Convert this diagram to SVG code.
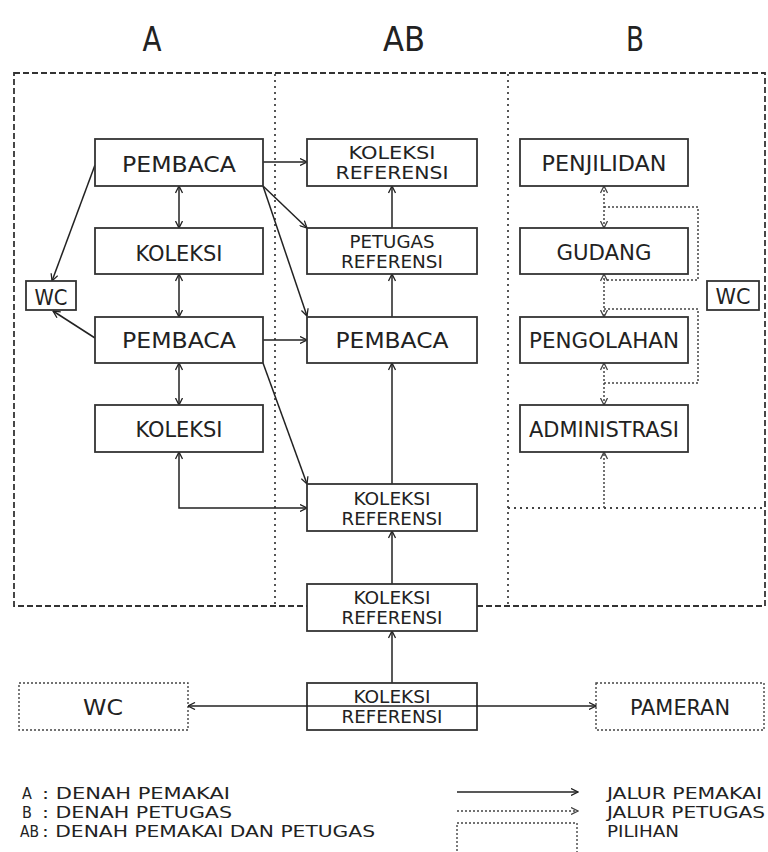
<svg xmlns="http://www.w3.org/2000/svg" width="768" height="852" viewBox="0 0 768 852">
<style>
text{font-family:"DejaVu Sans Condensed","DejaVu Sans","Liberation Sans",sans-serif;fill:#222;text-anchor:middle}
.box{fill:#fff;stroke:#333;stroke-width:1.8}
.opt{fill:#fff;stroke:#444;stroke-width:1.4;stroke-dasharray:2 2}
.frame{fill:none;stroke:#333;stroke-width:1.8;stroke-dasharray:6 3}
.div{fill:none;stroke:#444;stroke-width:1.8;stroke-dasharray:2 4}
.ln{fill:none;stroke:#222;stroke-width:1.5}
.dl{fill:none;stroke:#444;stroke-width:1.5;stroke-dasharray:2 2}
.t1{font-size:22px}
.t2{font-size:17px}
.hd{font-size:33px}
.lg{font-size:16px;text-anchor:start}
</style>
<defs>
<marker id="ah" viewBox="0 0 8 8" refX="7.5" refY="4" markerWidth="8" markerHeight="8" markerUnits="userSpaceOnUse" orient="auto-start-reverse">
<path d="M0.5,0.5 L7.5,4 L0.5,7.5" fill="none" stroke="#222" stroke-width="1.3"/>
</marker>
<marker id="ahd" viewBox="0 0 8 8" refX="7.5" refY="4" markerWidth="8" markerHeight="8" markerUnits="userSpaceOnUse" orient="auto-start-reverse">
<path d="M0.5,0.5 L7.5,4 L0.5,7.5" fill="none" stroke="#444" stroke-width="1.3"/>
</marker>
</defs>

<g id="headers">
<text class="hd" x="152" y="51" textLength="19" lengthAdjust="spacingAndGlyphs">A</text>
<text class="hd" x="404" y="51" textLength="42" lengthAdjust="spacingAndGlyphs">AB</text>
<text class="hd" x="635" y="51" textLength="18" lengthAdjust="spacingAndGlyphs">B</text>
</g>

<g id="zones">
<rect class="frame" x="14" y="73" width="751" height="533"/>
<line class="div" x1="275" y1="74" x2="275" y2="605"/>
<line class="div" x1="508" y1="74" x2="508" y2="605"/>
<line class="div" x1="508" y1="508" x2="765" y2="508"/>
</g>

<g id="connectors">
<line class="ln" x1="263" y1="162" x2="307" y2="162" marker-end="url(#ah)"/>
<line class="ln" x1="179" y1="186" x2="179" y2="228" marker-start="url(#ah)" marker-end="url(#ah)"/>
<line class="ln" x1="179" y1="274" x2="179" y2="317" marker-start="url(#ah)" marker-end="url(#ah)"/>
<line class="ln" x1="179" y1="363" x2="179" y2="405" marker-start="url(#ah)" marker-end="url(#ah)"/>
<line class="ln" x1="95" y1="165" x2="52" y2="281" marker-end="url(#ah)"/>
<line class="ln" x1="95" y1="338" x2="53" y2="311" marker-end="url(#ah)"/>
<line class="ln" x1="263" y1="186" x2="307" y2="228" marker-end="url(#ah)"/>
<line class="ln" x1="263" y1="186" x2="307" y2="316" marker-end="url(#ah)"/>
<line class="ln" x1="263" y1="340" x2="307" y2="340" marker-end="url(#ah)"/>
<line class="ln" x1="263" y1="363" x2="307" y2="484" marker-end="url(#ah)"/>
<path class="ln" d="M179,452 L179,508 L307,508" marker-start="url(#ah)" marker-end="url(#ah)"/>
<line class="ln" x1="392" y1="228" x2="392" y2="186" marker-end="url(#ah)"/>
<line class="ln" x1="392" y1="317" x2="392" y2="274" marker-end="url(#ah)"/>
<line class="ln" x1="392" y1="484" x2="392" y2="363" marker-end="url(#ah)"/>
<line class="ln" x1="392" y1="584" x2="392" y2="531" marker-end="url(#ah)"/>
<line class="ln" x1="392" y1="683" x2="392" y2="631" marker-end="url(#ah)"/>
<line class="dl" x1="604" y1="186" x2="604" y2="228" marker-start="url(#ahd)" marker-end="url(#ahd)"/>
<line class="dl" x1="604" y1="274" x2="604" y2="317" marker-start="url(#ahd)" marker-end="url(#ahd)"/>
<line class="dl" x1="604" y1="363" x2="604" y2="405" marker-start="url(#ahd)" marker-end="url(#ahd)"/>
<line class="dl" x1="604" y1="508" x2="604" y2="452" marker-end="url(#ahd)"/>
<path class="dl" d="M604,207 L698,207 L698,280 L604,280"/>
<path class="dl" d="M604,309 L698,309 L698,383 L604,383"/>
</g>

<g id="col-a">
<g id="pembaca-a1"><rect class="box" x="95" y="139" width="168" height="47"/><text class="t1" x="179" y="172" textLength="114" lengthAdjust="spacingAndGlyphs">PEMBACA</text></g>
<g id="koleksi-a1"><rect class="box" x="95" y="228" width="168" height="46"/><text class="t1" x="179" y="261" textLength="87" lengthAdjust="spacingAndGlyphs">KOLEKSI</text></g>
<g id="pembaca-a2"><rect class="box" x="95" y="317" width="168" height="46"/><text class="t1" x="179" y="348" textLength="114" lengthAdjust="spacingAndGlyphs">PEMBACA</text></g>
<g id="koleksi-a2"><rect class="box" x="95" y="405" width="168" height="47"/><text class="t1" x="179" y="437" textLength="87" lengthAdjust="spacingAndGlyphs">KOLEKSI</text></g>
<g id="wc-a"><rect class="box" x="26" y="281" width="50" height="29"/><text class="t1" x="51" y="305" textLength="33" lengthAdjust="spacingAndGlyphs">WC</text></g>
</g>

<g id="col-ab">
<g id="kr1"><rect class="box" x="307" y="139" width="170" height="47"/><text class="t2"><tspan x="392" y="159" textLength="87" lengthAdjust="spacingAndGlyphs">KOLEKSI</tspan><tspan x="392" y="179" textLength="113" lengthAdjust="spacingAndGlyphs">REFERENSI</tspan></text></g>
<g id="petugas-ref"><rect class="box" x="307" y="228" width="170" height="46"/><text class="t2"><tspan x="392" y="248" textLength="85" lengthAdjust="spacingAndGlyphs">PETUGAS</tspan><tspan x="392" y="268" textLength="102" lengthAdjust="spacingAndGlyphs">REFERENSI</tspan></text></g>
<g id="pembaca-ab"><rect class="box" x="307" y="317" width="170" height="46"/><text class="t1" x="392" y="348" textLength="113" lengthAdjust="spacingAndGlyphs">PEMBACA</text></g>
<g id="kr3"><rect class="box" x="307" y="484" width="170" height="47"/><text class="t2"><tspan x="392" y="505" textLength="77" lengthAdjust="spacingAndGlyphs">KOLEKSI</tspan><tspan x="392" y="525" textLength="101" lengthAdjust="spacingAndGlyphs">REFERENSI</tspan></text></g>
<g id="kr4"><rect class="box" x="307" y="584" width="170" height="47"/><text class="t2"><tspan x="392" y="604" textLength="77" lengthAdjust="spacingAndGlyphs">KOLEKSI</tspan><tspan x="392" y="624" textLength="101" lengthAdjust="spacingAndGlyphs">REFERENSI</tspan></text></g>
<g id="kr5"><rect class="box" x="307" y="683" width="170" height="47"/><text class="t2"><tspan x="392" y="703" textLength="77" lengthAdjust="spacingAndGlyphs">KOLEKSI</tspan><tspan x="392" y="723" textLength="101" lengthAdjust="spacingAndGlyphs">REFERENSI</tspan></text></g>
</g>

<g id="col-b">
<g id="penjilidan"><rect class="box" x="520" y="139" width="168" height="47"/><text class="t1" x="604" y="171" textLength="125" lengthAdjust="spacingAndGlyphs">PENJILIDAN</text></g>
<g id="gudang"><rect class="box" x="520" y="228" width="168" height="46"/><text class="t1" x="604" y="260" textLength="95" lengthAdjust="spacingAndGlyphs">GUDANG</text></g>
<g id="pengolahan"><rect class="box" x="520" y="317" width="168" height="46"/><text class="t1" x="604" y="348" textLength="150" lengthAdjust="spacingAndGlyphs">PENGOLAHAN</text></g>
<g id="administrasi"><rect class="box" x="520" y="405" width="168" height="47"/><text class="t1" x="604" y="437" textLength="150" lengthAdjust="spacingAndGlyphs">ADMINISTRASI</text></g>
<g id="wc-b"><rect class="box" x="707" y="281" width="52" height="29"/><text class="t1" x="733" y="304" textLength="35" lengthAdjust="spacingAndGlyphs">WC</text></g>
</g>

<g id="bottom">
<g id="wc-opt"><rect class="opt" x="19" y="683" width="169" height="47"/><text class="t1" x="103" y="715" textLength="40" lengthAdjust="spacingAndGlyphs">WC</text></g>
<g id="pameran"><rect class="opt" x="596" y="683" width="168" height="47"/><text class="t1" x="680" y="715" textLength="100" lengthAdjust="spacingAndGlyphs">PAMERAN</text></g>
<line class="ln" x1="188" y1="706" x2="596" y2="706" marker-start="url(#ah)" marker-end="url(#ah)"/>
</g>

<g id="legend">
<text class="lg"><tspan x="22" y="799">A</tspan><tspan x="22" y="818">B</tspan><tspan x="20" y="837" textLength="19" lengthAdjust="spacingAndGlyphs">AB</tspan></text>
<text class="lg"><tspan x="42" y="799" textLength="188" lengthAdjust="spacingAndGlyphs">: DENAH PEMAKAI</tspan><tspan x="42" y="818" textLength="190" lengthAdjust="spacingAndGlyphs">: DENAH PETUGAS</tspan><tspan x="42" y="837" textLength="333" lengthAdjust="spacingAndGlyphs">: DENAH PEMAKAI DAN PETUGAS</tspan></text>
<line class="ln" x1="457" y1="792" x2="578" y2="792" marker-end="url(#ah)"/>
<line class="dl" x1="457" y1="811" x2="578" y2="811" marker-end="url(#ahd)"/>
<rect class="opt" x="457" y="823" width="120" height="40"/>
<text class="lg"><tspan x="607" y="799" textLength="155" lengthAdjust="spacingAndGlyphs">JALUR PEMAKAI</tspan><tspan x="607" y="818" textLength="158" lengthAdjust="spacingAndGlyphs">JALUR PETUGAS</tspan><tspan x="607" y="837" textLength="72" lengthAdjust="spacingAndGlyphs">PILIHAN</tspan></text>
</g>
</svg>
